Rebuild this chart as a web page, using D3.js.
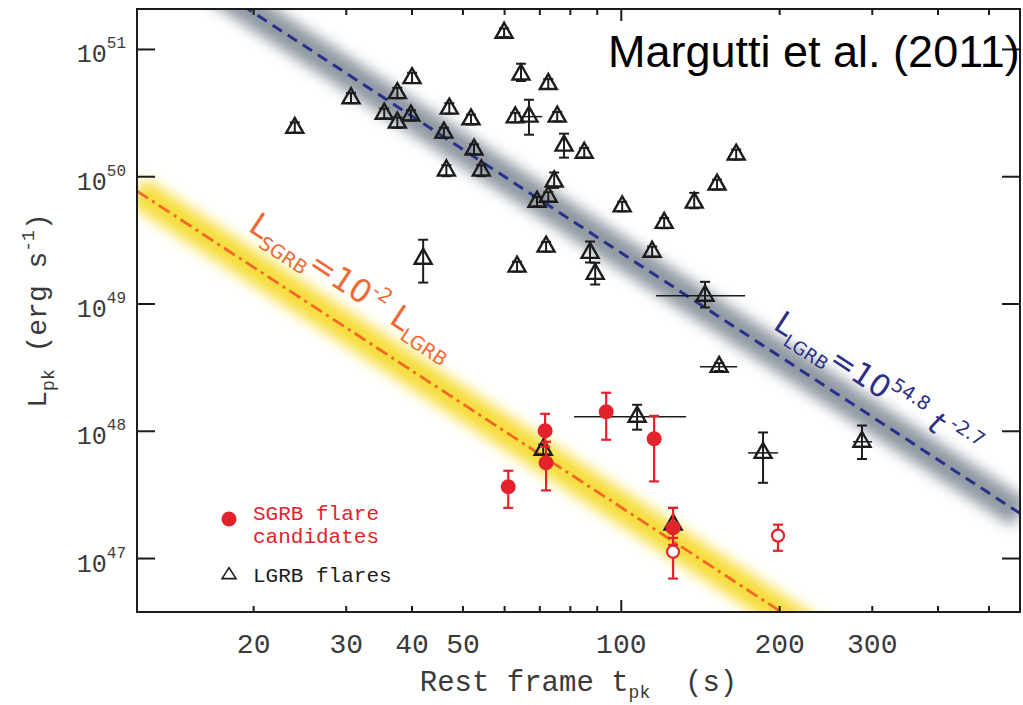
<!DOCTYPE html>
<html>
<head>
<meta charset="utf-8">
<script src="https://cdn.jsdelivr.net/npm/d3@7"></script>
<style>
  body { margin: 0; background: #fff; }
  svg { display: block; }
</style>
</head>
<body>
<svg id="chart" width="1023" height="705"></svg>
<script>
// ---- LGRB flares: rest-frame peak time (s) and peak luminosity (erg/s) ----
const lgrbT = [24.0, 30.7, 35.5, 37.6, 37.6, 39.9, 40.1, 47.2, 46.1, 51.9, 52.6, 46.6, 54.3, 42.1,
  60.0, 64.6, 72.8, 63.0, 66.9, 75.7, 78.0, 85.2, 74.7, 72.8, 69.3, 63.5, 72.1, 87.4, 89.4,
  100.6, 114.7, 120.9, 137.9, 152.4, 165.7, 144.6, 153.8, 107.4, 71.2, 125.7, 186.4, 287.4];
const lgrbL = [2.4e50, 4.1e50, 3.1e50, 4.5e50, 2.64e50, 3.0e50, 5.9e50, 3.4e50, 2.2e50, 2.8e50, 1.62e50, 1.11e50, 1.11e50, 2.25e49,
  1.34e51, 6.3e50, 5.3e50, 2.9e50, 2.94e50, 2.94e50, 1.74e50, 1.53e50, 9.1e49, 6.9e49, 6.3e49, 1.95e49, 2.8e49, 2.5e49, 1.71e49,
  5.8e49, 2.55e49, 4.3e49, 6.2e49, 8.6e49, 1.48e50, 1.15e49, 3.18e48, 1.29e48, 7.1e47, 1.83e47, 6.7e47, 8.2e47];
const lgrbLlo = [2.2e50, 3.75e50, 2.85e50, 4.1e50, 2.4e50, 2.75e50, 5.4e50, 3.1e50, 2.0e50, 2.55e50, 1.48e50, 1.0e50, 1.0e50, 1.46e49,
  1.24e51, 5.6e50, 4.85e50, 2.65e50, 2.12e50, 2.7e50, 1.4e50, 1.4e50, 8.1e49, 6.3e49, 5.8e49, 1.78e49, 2.55e49, 2.1e49, 1.41e49,
  5.3e49, 2.33e49, 3.9e49, 5.6e49, 7.85e49, 1.35e50, 9.3e48, 2.95e48, 1.02e48, 6.5e47, 1.6e47, 3.9e47, 6.0e47];
const lgrbLhi = [2.65e50, 4.5e50, 3.4e50, 4.95e50, 2.9e50, 3.3e50, 6.5e50, 3.75e50, 2.4e50, 3.05e50, 1.78e50, 1.22e50, 1.22e50, 3.17e49,
  1.45e51, 7.65e50, 5.8e50, 3.15e50, 3.99e50, 3.2e50, 2.16e50, 1.67e50, 1.07e50, 7.5e49, 6.9e49, 2.13e49, 3.05e49, 3.07e49, 2.09e49,
  6.3e49, 2.8e49, 4.7e49, 7.4e49, 9.4e49, 1.62e50, 1.48e49, 3.4e48, 1.6e48, 7.8e47, 2.48e47, 9.7e47, 1.1e48];
const lgrbTlo = [null, null, null, null, null, null, null, null, null, null, null, null, null, null,
  null, null, null, null, 64.9, null, null, null, null, null, null, null, null, null, null,
  null, null, null, null, null, null, 116.7, 141.5, 81.5, null, null, 174.6, 276.4];
const lgrbThi = [null, null, null, null, null, null, null, null, null, null, null, null, null, null,
  null, null, null, null, 70.9, null, null, null, null, null, null, null, null, null, null,
  null, null, null, null, null, null, 172.3, 166.4, 133.1, null, null, 199.1, 300.4];

// ---- SGRB flare candidates ----
const sgrbT = [61.1, 71.8, 72.1, 93.8, 115.7, 125.7];
const sgrbL = [3.63e47, 1.0e48, 5.6e47, 1.41e48, 8.66e47, 1.73e47];
const sgrbLlo = [2.48e47, 7.5e47, 3.4e47, 8.5e47, 4.0e47, 1.27e47];
const sgrbLhi = [4.85e47, 1.36e48, 8.2e47, 1.99e48, 1.31e48, 2.48e47];
// candidates drawn as open circles
const sgrbOpenT = [125.7, 199];
const sgrbOpenL = [1.12e47, 1.5e47];
const sgrbOpenLlo = [6.9e46, 1.14e47];
const sgrbOpenLhi = [1.44e47, 1.83e47];

// ---- relations: L_LGRB = 10^54.8 t^-2.7, L_SGRB = 10^-2 L_LGRB ----
const lgrbLogNorm = 54.8;
const relSlope = -2.7;
const sgrbLogShift = -2;

// ---- ticks ----
const xTickValues = [20, 30, 40, 50, 60, 70, 80, 90, 100, 200, 300, 400, 500];
const xTickLabels = ["20", "30", "40", "50", "", "", "", "", "100", "200", "300", "", ""];
const xMajorTicks = [100];
const yTickExponents = [47, 48, 49, 50, 51];

// ---- layout ----
const W = 1023, H = 705;
const plot = { left: 137, right: 1020, top: 9, bottom: 612 };
const tickFont = "'Liberation Mono', 'Courier New', monospace";
const ink = "#1c1c1c";
const textInk = "#3a3a3a";
const red = "#e2232c";

const svg = d3.select("#chart");

const x = d3.scaleLog().domain([12.03, 574]).range([plot.left, plot.right]);
const y = d3.scaleLog().domain([Math.pow(10, 46.576), Math.pow(10, 51.314)]).range([plot.bottom, plot.top]);

const defs = svg.append("defs");
defs.append("clipPath").attr("id", "plotClip")
  .append("rect")
  .attr("x", plot.left).attr("y", plot.top)
  .attr("width", plot.right - plot.left).attr("height", plot.bottom - plot.top);
const blur = defs.append("filter").attr("id", "soft")
  .attr("filterUnits", "userSpaceOnUse")
  .attr("x", 0).attr("y", 0).attr("width", W).attr("height", H);
blur.append("feGaussianBlur").attr("stdDeviation", 7);

// relation line endpoints across the full time range
const tEnds = x.domain();
const relation = (logNorm) => tEnds.map(t => [t, Math.pow(10, logNorm + relSlope * Math.log10(t))]);
const lineGen = d3.line().x(d => x(d[0])).y(d => y(d[1]));

const clipped = svg.append("g").attr("clip-path", "url(#plotClip)");

// soft uncertainty bands
clipped.append("path")
  .attr("d", lineGen(relation(lgrbLogNorm)))
  .attr("stroke", "#8f97a1").attr("stroke-width", 30).attr("fill", "none")
  .attr("filter", "url(#soft)");
clipped.append("path")
  .attr("d", lineGen(relation(lgrbLogNorm + sgrbLogShift)))
  .attr("stroke", "#f6dd3a").attr("stroke-width", 30).attr("fill", "none")
  .attr("filter", "url(#soft)");

// the relations themselves
clipped.append("path")
  .attr("d", lineGen(relation(lgrbLogNorm)))
  .attr("stroke", "#27318c").attr("stroke-width", 3).attr("fill", "none")
  .attr("stroke-dasharray", "11,7");
clipped.append("path")
  .attr("d", lineGen(relation(lgrbLogNorm + sgrbLogShift)))
  .attr("stroke", "#f2672a").attr("stroke-width", 2.8).attr("fill", "none")
  .attr("stroke-dasharray", "13,5,3,5");

// relation labels, rotated along the lines
const slopeAngle = Math.atan2(y(1e48) - y(1e49), (x(Math.pow(10, 1 / 2.7) * 100) - x(100))) * 180 / Math.PI;
const labelFont = "'DejaVu Sans', sans-serif";

const lgrbLabel = svg.append("text")
  .attr("transform", `translate(772,328) rotate(${slopeAngle})`)
  .attr("fill", "#2c2f86").attr("font-family", labelFont).attr("font-size", 31);
lgrbLabel.append("tspan").text("L");
lgrbLabel.append("tspan").attr("font-size", 18).attr("dy", 8).text("LGRB");
lgrbLabel.append("tspan").attr("dy", -8).text("=10");
lgrbLabel.append("tspan").attr("font-size", 19).attr("dy", -14).text("54.8");
lgrbLabel.append("tspan").attr("dy", 14).attr("font-style", "italic").text(" t");
lgrbLabel.append("tspan").attr("font-size", 19).attr("dy", -14).text(" -2.7");

const sgrbLabel = svg.append("text")
  .attr("transform", `translate(247,230) rotate(${slopeAngle})`)
  .attr("fill", "#ee6a35").attr("font-family", labelFont).attr("font-size", 32);
sgrbLabel.append("tspan").text("L");
sgrbLabel.append("tspan").attr("font-size", 19).attr("dy", 8).text("SGRB");
sgrbLabel.append("tspan").attr("dy", -8).text("=10");
sgrbLabel.append("tspan").attr("font-size", 20).attr("dy", -14).text("-2");
sgrbLabel.append("tspan").attr("dy", 14).text(" L");
sgrbLabel.append("tspan").attr("font-size", 19).attr("dy", 8).text("LGRB");

// ---- LGRB flares (open triangles with error bars) ----
const triPath = (w, h) => `M0,${-2 * h / 3}L${w / 2},${h / 3}L${-w / 2},${h / 3}Z`;
const lgrb = lgrbT.map((t, i) => ({ t, L: lgrbL[i], lo: lgrbLlo[i], hi: lgrbLhi[i], tlo: lgrbTlo[i], thi: lgrbThi[i] }));

const gL = svg.append("g");
gL.selectAll("line.xerr").data(lgrb.filter(d => d.tlo !== null)).join("line")
  .attr("x1", d => x(d.tlo)).attr("x2", d => x(d.thi))
  .attr("y1", d => y(d.L)).attr("y2", d => y(d.L))
  .attr("stroke", ink).attr("stroke-width", 1.5);
gL.selectAll("line.yerr").data(lgrb).join("line")
  .attr("x1", d => x(d.t)).attr("x2", d => x(d.t))
  .attr("y1", d => y(d.lo)).attr("y2", d => y(d.hi))
  .attr("stroke", ink).attr("stroke-width", 2);
["lo", "hi"].forEach(k => {
  gL.append("g").selectAll("line").data(lgrb).join("line")
    .attr("x1", d => x(d.t) - 5).attr("x2", d => x(d.t) + 5)
    .attr("y1", d => y(d[k])).attr("y2", d => y(d[k]))
    .attr("stroke", ink).attr("stroke-width", 2);
});
gL.append("g").selectAll("path").data(lgrb).join("path")
  .attr("d", triPath(17, 15))
  .attr("transform", d => `translate(${x(d.t)},${y(d.L)})`)
  .attr("fill", "none").attr("stroke", ink).attr("stroke-width", 2.4)
  .attr("stroke-linejoin", "miter");

// ---- SGRB candidates ----
function drawRedErrors(g, ts, Ls, los, his) {
  const data = ts.map((t, i) => ({ t, L: Ls[i], lo: los[i], hi: his[i] }));
  g.append("g").selectAll("line").data(data).join("line")
    .attr("x1", d => x(d.t)).attr("x2", d => x(d.t))
    .attr("y1", d => y(d.lo)).attr("y2", d => y(d.hi))
    .attr("stroke", red).attr("stroke-width", 2.2);
  ["lo", "hi"].forEach(k => {
    g.append("g").selectAll("line").data(data).join("line")
      .attr("x1", d => x(d.t) - 5).attr("x2", d => x(d.t) + 5)
      .attr("y1", d => y(d[k])).attr("y2", d => y(d[k]))
      .attr("stroke", red).attr("stroke-width", 2.2);
  });
  return data;
}
const gS = svg.append("g");
const sData = drawRedErrors(gS, sgrbT, sgrbL, sgrbLlo, sgrbLhi);
const oData = drawRedErrors(gS, sgrbOpenT, sgrbOpenL, sgrbOpenLlo, sgrbOpenLhi);
gS.append("g").selectAll("circle").data(sData).join("circle")
  .attr("cx", d => x(d.t)).attr("cy", d => y(d.L)).attr("r", 7.5)
  .attr("fill", red);
gS.append("g").selectAll("circle").data(oData).join("circle")
  .attr("cx", d => x(d.t)).attr("cy", d => y(d.L)).attr("r", 6)
  .attr("fill", "#fff").attr("stroke", red).attr("stroke-width", 2.2);

// ---- legend ----
const legend = svg.append("g").attr("font-family", tickFont).attr("font-size", 21);
legend.append("circle").attr("cx", 229).attr("cy", 519).attr("r", 7.5).attr("fill", red);
legend.append("text").attr("x", 253).attr("y", 520).attr("fill", red).text("SGRB flare");
legend.append("text").attr("x", 253).attr("y", 543).attr("fill", red).text("candidates");
legend.append("path").attr("d", triPath(14, 11)).attr("transform", "translate(229,575)")
  .attr("fill", "none").attr("stroke", ink).attr("stroke-width", 1.6);
legend.append("text").attr("x", 253).attr("y", 582).attr("fill", ink).text("LGRB flares");

// ---- axes ----
const tickLen = v => (xMajorTicks.includes(v) ? 12 : 6);

const xAxisB = svg.append("g").attr("transform", `translate(0,${plot.bottom})`)
  .call(d3.axisBottom(x).tickValues(xTickValues).tickSizeOuter(0).tickSizeInner(0).tickPadding(21)
    .tickFormat((d, i) => xTickLabels[i]));
xAxisB.selectAll(".tick line").attr("y2", d => -tickLen(d));
const xAxisT = svg.append("g").attr("transform", `translate(0,${plot.top})`)
  .call(d3.axisTop(x).tickValues(xTickValues).tickSizeOuter(0).tickSizeInner(0).tickFormat(""));
xAxisT.selectAll(".tick line").attr("y2", d => tickLen(d));

const yTicks = yTickExponents.map(e => Math.pow(10, e));
const yAxisL = svg.append("g").attr("transform", `translate(${plot.left},0)`)
  .call(d3.axisLeft(y).tickValues(yTicks).tickSizeOuter(0).tickSizeInner(-18).tickFormat(""));
const yAxisR = svg.append("g").attr("transform", `translate(${plot.right},0)`)
  .call(d3.axisRight(y).tickValues(yTicks).tickSizeOuter(0).tickSizeInner(-18).tickFormat(""));

[xAxisB, xAxisT, yAxisL, yAxisR].forEach(a => {
  a.select(".domain").remove();
  a.selectAll(".tick line").attr("stroke", ink).attr("stroke-width", 2);
});
xAxisB.selectAll(".tick text")
  .attr("font-family", tickFont).attr("font-size", 28).attr("fill", textInk);

// y tick labels: 10 with superscript exponent
yAxisL.selectAll(".tick").each(function (d) {
  const t = d3.select(this).append("text")
    .attr("x", -11).attr("y", 13).attr("text-anchor", "end")
    .attr("font-family", tickFont).attr("font-size", 25).attr("fill", textInk);
  t.append("tspan").text("10");
  t.append("tspan").attr("font-size", 16).attr("dy", -14).text(String(Math.round(Math.log10(d))));
});

// frame
svg.append("rect")
  .attr("x", plot.left).attr("y", plot.top)
  .attr("width", plot.right - plot.left).attr("height", plot.bottom - plot.top)
  .attr("fill", "none").attr("stroke", ink).attr("stroke-width", 2);

// axis titles
const xTitle = svg.append("text")
  .attr("x", (plot.left + plot.right) / 2).attr("y", 691).attr("text-anchor", "middle")
  .attr("font-family", tickFont).attr("font-size", 29).attr("fill", textInk);
xTitle.append("tspan").text("Rest frame t");
xTitle.append("tspan").attr("font-size", 18).attr("dy", 7).text("pk");
xTitle.append("tspan").attr("dy", -7).attr("xml:space", "preserve").text("  (s)");

const yTitle = svg.append("text")
  .attr("transform", `translate(46,${(plot.top + plot.bottom) / 2}) rotate(-90)`)
  .attr("text-anchor", "middle")
  .attr("font-family", tickFont).attr("font-size", 28).attr("fill", textInk);
yTitle.append("tspan").text("L");
yTitle.append("tspan").attr("font-size", 18).attr("dy", 8).text("pk");
yTitle.append("tspan").attr("dy", -8).text(" (erg s");
yTitle.append("tspan").attr("font-size", 18).attr("dy", -12).text("-1");
yTitle.append("tspan").attr("dy", 12).text(")");

// citation
svg.append("text")
  .attr("x", 608).attr("y", 67)
  .attr("font-family", "'Liberation Sans', Arial, sans-serif").attr("font-size", 45)
  .attr("fill", "#000").text("Margutti et al. (2011)");
</script>
</body>
</html>
